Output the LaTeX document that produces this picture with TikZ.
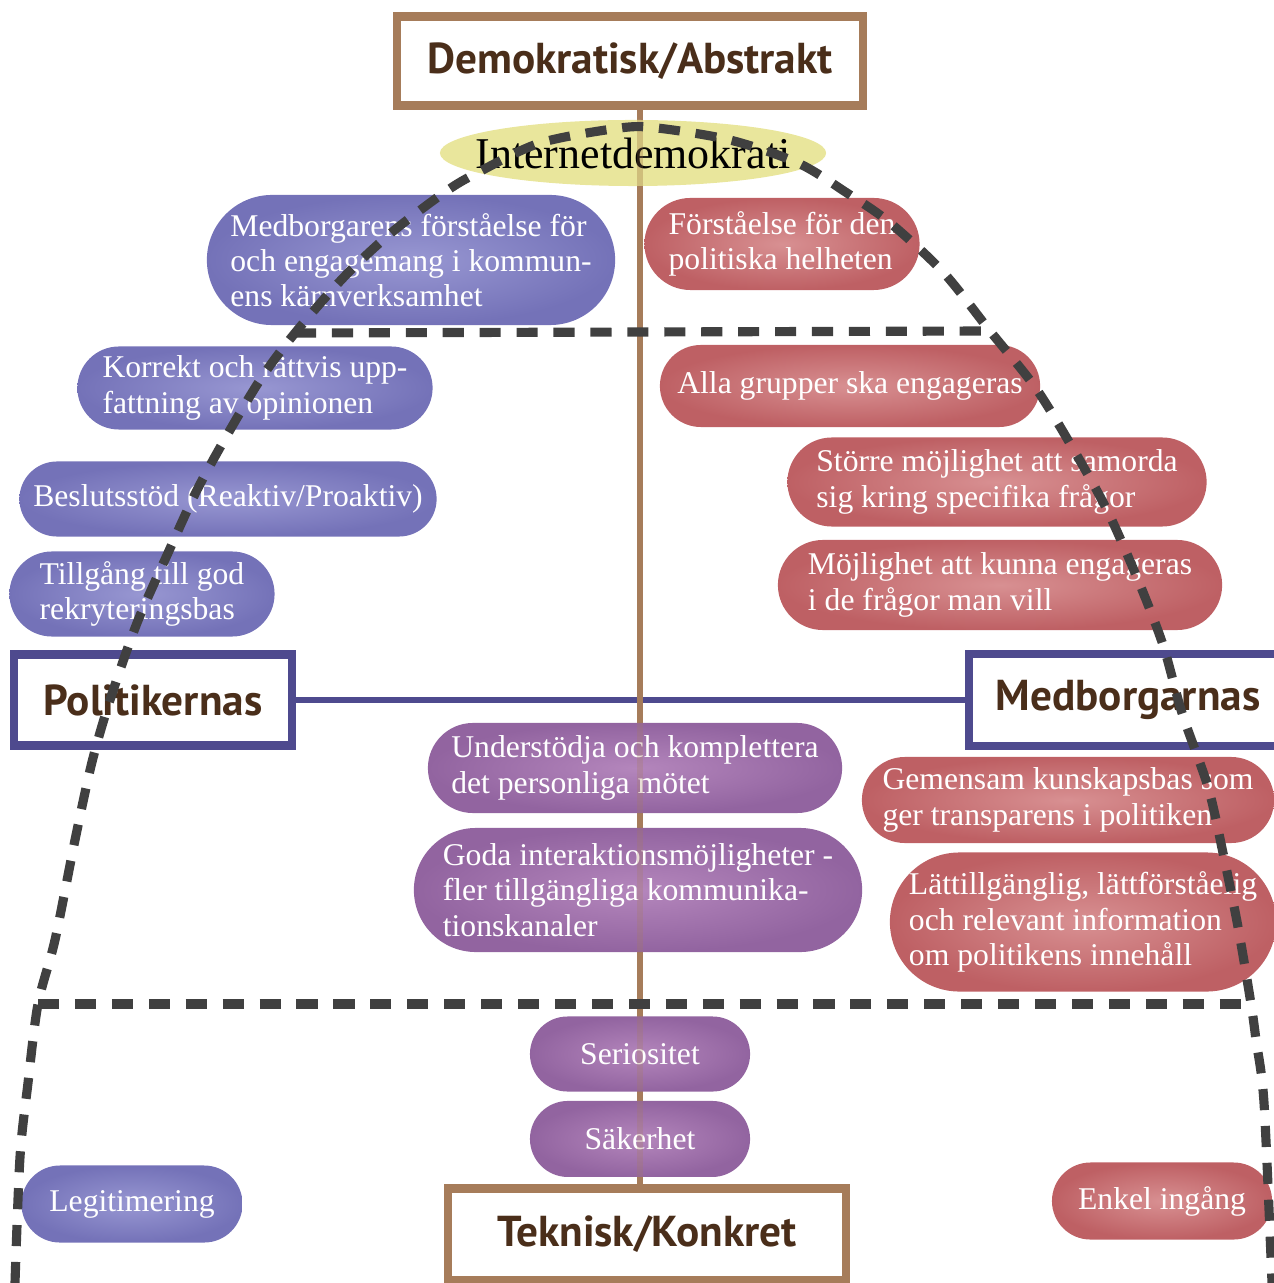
\documentclass[tikz,border=0pt]{standalone}
\usepackage{fontspec}
\setmainfont{Liberation Serif}
\newfontfamily\boxfont{PT Sans}
\usetikzlibrary{positioning, shapes.geometric, backgrounds}

\definecolor{brownline}{RGB}{166,124,90}
\definecolor{bluebox}{RGB}{78,74,142}
\definecolor{dashgrey}{RGB}{64,64,64}
\definecolor{textbrown}{RGB}{74,46,26}
\definecolor{yellowfill}{RGB}{230,226,142}
\definecolor{polin}{RGB}{152,151,210}
\definecolor{polout}{RGB}{116,114,184}
\definecolor{medin}{RGB}{216,144,146}
\definecolor{medout}{RGB}{190,96,100}
\definecolor{bothin}{RGB}{180,134,188}
\definecolor{bothout}{RGB}{146,100,160}

\tikzset{
  pill/.style={rectangle, rounded corners=#1, minimum height=2*#1, inner sep=0pt,
    align=left, text=white, font=\fontsize{9}{10}\selectfont},
  polpill/.style={pill=#1, inner color=polin, outer color=polout},
  medpill/.style={pill=#1, inner color=medin, outer color=medout},
  bothpill/.style={pill=#1, inner color=bothin, outer color=bothout},
  levelbox/.style={draw=#1, line width=2.3pt, fill=white, inner sep=0pt,
    text=textbrown, font=\boxfont\bfseries\fontsize{12.3}{14}\selectfont},
  dashline/.style={draw=dashgrey, line width=2.6pt, dash pattern=on 6pt off 4.5pt},
}

\begin{document}
\begin{tikzpicture}[x=0.01cm, y=-0.01cm]
\useasboundingbox (0,0) rectangle (1274,1283);

% levels and actors
\node[levelbox=brownline, minimum width=4.66cm, minimum height=0.89cm] (demo) at (630,61) {Demokratisk/Abstrakt};
\node[levelbox=brownline, minimum width=3.97cm, minimum height=0.91cm] (tekn) at (647,1234) {Teknisk/Konkret};
\node[levelbox=bluebox, minimum width=2.77cm, minimum height=0.91cm] (polit) at (153,700) {Politikernas};
\node[levelbox=bluebox, minimum width=3.18cm, minimum height=0.92cm] (medbg) at (1128,700) {Medborgarnas};

\node[ellipse, fill=yellowfill, fill opacity=0.88, text opacity=1, inner xsep=-0.22cm, inner ysep=0pt,
  minimum width=3.86cm, minimum height=0.66cm, font=\fontsize{12.5}{14}\selectfont] (inet) at (633,153) {Internetdemokrati};

% goals
\node[polpill=0.65cm, minimum width=4.08cm] (medbor) at (411,260) {Medborgarens förståelse för\\och engagemang i kommun-\\ens kärnverksamhet};
\node[medpill=0.46cm, minimum width=2.75cm] (forst) at (782,244) {Förståelse för den\\politiska helheten};
\node[polpill=0.415cm, minimum width=3.55cm] (korrekt) at (255,388) {Korrekt och rättvis upp-\\fattning av opinionen};
\node[medpill=0.41cm, minimum width=3.80cm] (alla) at (850,386) {Alla grupper ska engageras};
\node[polpill=0.375cm, minimum width=4.17cm] (beslut) at (228,499) {Beslutsstöd (Reaktiv/Proaktiv)};
\node[medpill=0.445cm, minimum width=4.19cm] (storre) at (997,482) {Större möjlighet att samorda\\sig kring specifika frågor};
\node[polpill=0.425cm, minimum width=2.65cm] (tillg) at (142,594) {Tillgång till god\\rekryteringsbas};
\node[medpill=0.45cm, minimum width=4.44cm] (mojl) at (1000,585) {Möjlighet att kunna engageras\\i de frågor man vill};
\node[bothpill=0.45cm, minimum width=4.14cm] (underst) at (635,768) {Understödja och komplettera\\det personliga mötet};
\node[medpill=0.43cm, minimum width=4.12cm] (gemens) at (1068,800) {Gemensam kunskapsbas som\\ger transparens i politiken};
\node[bothpill=0.62cm, minimum width=4.48cm] (goda) at (638,890) {Goda interaktionsmöjligheter -\\fler tillgängliga kommunika-\\tionskanaler};
\node[medpill=0.695cm, minimum width=3.86cm] (latt) at (1083,922) {Lättillgänglig, lättförståelig\\och relevant information\\om politikens innehåll};
\node[bothpill=0.375cm, minimum width=2.2cm] (serio) at (640,1054) {Seriositet};
\node[bothpill=0.38cm, minimum width=2.2cm, below=0.08cm of serio] (saker) {Säkerhet};
\node[polpill=0.385cm, minimum width=2.21cm] (legit) at (132,1204) {Legitimering};
\node[medpill=0.385cm, minimum width=2.2cm] (enkel) at (1162,1201) {Enkel ingång};

% axes
\begin{scope}[on background layer]
  \draw[bluebox, line width=1.7pt] (polit.east) -- (medbg.west);
  \draw[brownline, line width=1.8pt] (demo.south -| serio) -- (tekn.north -| serio);
\end{scope}
\draw[brownline, line width=1.8pt, opacity=0.25] (demo.south -| serio) -- (tekn.north -| serio);

% pyramid
\coordinate (lvlonew) at (295,333);
\coordinate (lvlonee) at (990,331);
\coordinate (lvltwow) at (38,1004);
\coordinate (lvltwoe) at (1251,1004);
\draw[dashline] plot[smooth, tension=0.5] coordinates {(15,1283) (20,1157) (28,1083) (lvltwow)
  (55,940) (75,840) (92,762) (110,700) (137,623) (168,553) (197,490) (230,430) (262,377)
  (lvlonew) (344,277) (391,233) (445,192) (477,173) (540,143) (620,128) (657,128) (730,140)
  (798,163) (847,193) (889,222) (943,272) (lvlonee) (1035,387) (1072,447) (1107,510)
  (1138,580) (1163,645) (1182,713) (1208,787) (1223,853) (1238,927) (lvltwoe)
  (1256,1040) (1264,1103) (1272,1283)};
\draw[dashline] (lvlonew) -- (lvlonee);
\draw[dashline] (lvltwow) -- (lvltwoe);
\end{tikzpicture}
\end{document}
